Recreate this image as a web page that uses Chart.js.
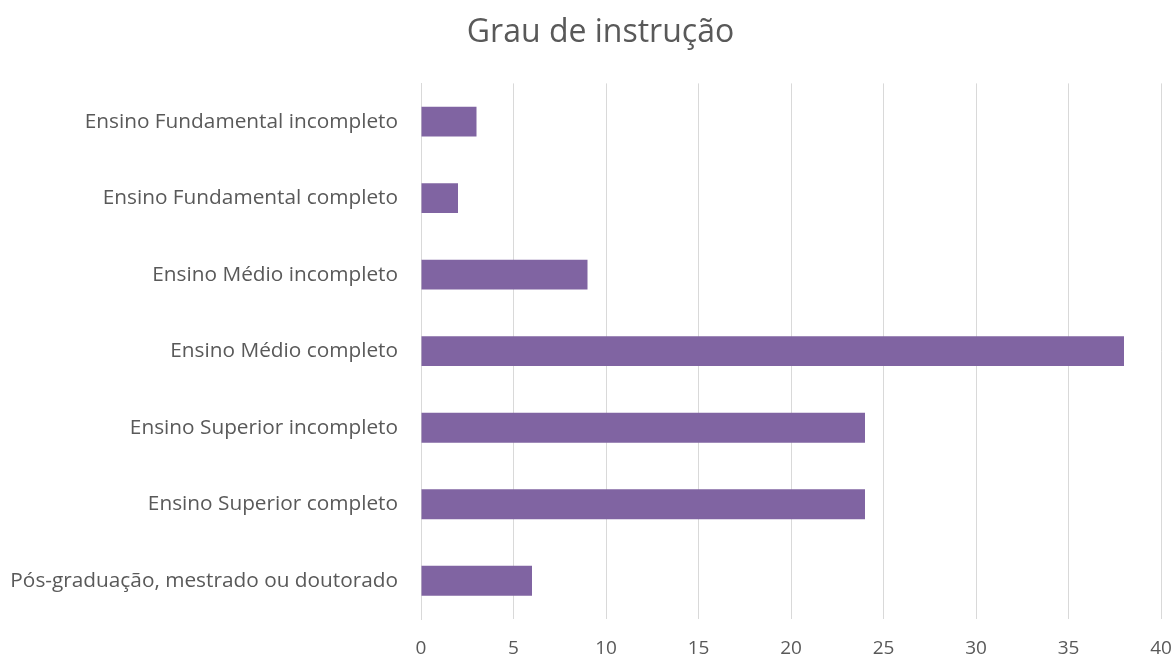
<!DOCTYPE html>
<html>
<head>
<meta charset="utf-8">
<script src="https://cdn.jsdelivr.net/npm/chart.js@4"></script>
<style>
    html, body { margin: 0; padding: 0; background: #fff; }
    #chart { display: block; }
</style>
</head>
<body>
<canvas id="chart" width="1175" height="662"></canvas>
<script>
const categories = [
    'Ensino Fundamental incompleto',
    'Ensino Fundamental completo',
    'Ensino Médio incompleto',
    'Ensino Médio completo',
    'Ensino Superior incompleto',
    'Ensino Superior completo',
    'Pós-graduação, mestrado ou doutorado'
];
const values = [3, 2, 9, 38, 24, 24, 6];
const xTicks = [0, 5, 10, 15, 20, 25, 30, 35, 40];

const fontFamily = '"Open Sans", Lato, sans-serif';
const textColor = '#595959';

// the original title sits a little right of the canvas centre
const titleShift = {
    id: 'titleShift',
    afterLayout(chart) {
        if (chart.titleBlock) {
            chart.titleBlock.left += 13;
            chart.titleBlock.right += 13;
        }
    }
};

document.addEventListener("DOMContentLoaded", function () {
    const ctx = document.getElementById('chart').getContext('2d');

    new Chart(ctx, {
        type: 'bar',
        data: {
            labels: categories,
            datasets: [{
                label: 'Grau de instrução',
                data: values,
                backgroundColor: '#8064a2',
                borderWidth: 0,
                barPercentage: 0.65,
                categoryPercentage: 0.6
            }]
        },
        options: {
            indexAxis: 'y',
            responsive: false,
            animation: false,
            layout: {
                padding: { left: 0, right: 0, top: 0, bottom: 0 }
            },
            plugins: {
                legend: { display: false },
                tooltip: { enabled: false },
                title: {
                    display: true,
                    text: 'Grau de instrução',
                    color: textColor,
                    font: { family: fontFamily, size: 32, weight: 'normal', lineHeight: 1.2 },
                    padding: { top: 14, bottom: 31 }
                }
            },
            scales: {
                x: {
                    min: 0,
                    max: 40,
                    afterBuildTicks: function (scale) {
                        scale.ticks = xTicks.map(v => ({ value: v }));
                    },
                    afterFit: function (scale) {
                        scale.height = 43;
                        scale.paddingLeft = 0;
                        scale.paddingRight = 14;
                    },
                    grid: {
                        color: '#d9d9d9',
                        lineWidth: 1,
                        drawTicks: false
                    },
                    border: { display: false },
                    ticks: {
                        color: textColor,
                        padding: 18,
                        maxRotation: 0,
                        font: { family: fontFamily, size: 19 }
                    }
                },
                y: {
                    afterFit: function (scale) {
                        scale.width = 421;
                    },
                    grid: { display: false, drawTicks: false },
                    border: { display: true, color: '#d9d9d9', width: 1 },
                    ticks: {
                        color: textColor,
                        padding: 23,
                        font: { family: fontFamily, size: 20.8 }
                    }
                }
            }
        },
        plugins: [titleShift]
    });
});
</script>
</body>
</html>
